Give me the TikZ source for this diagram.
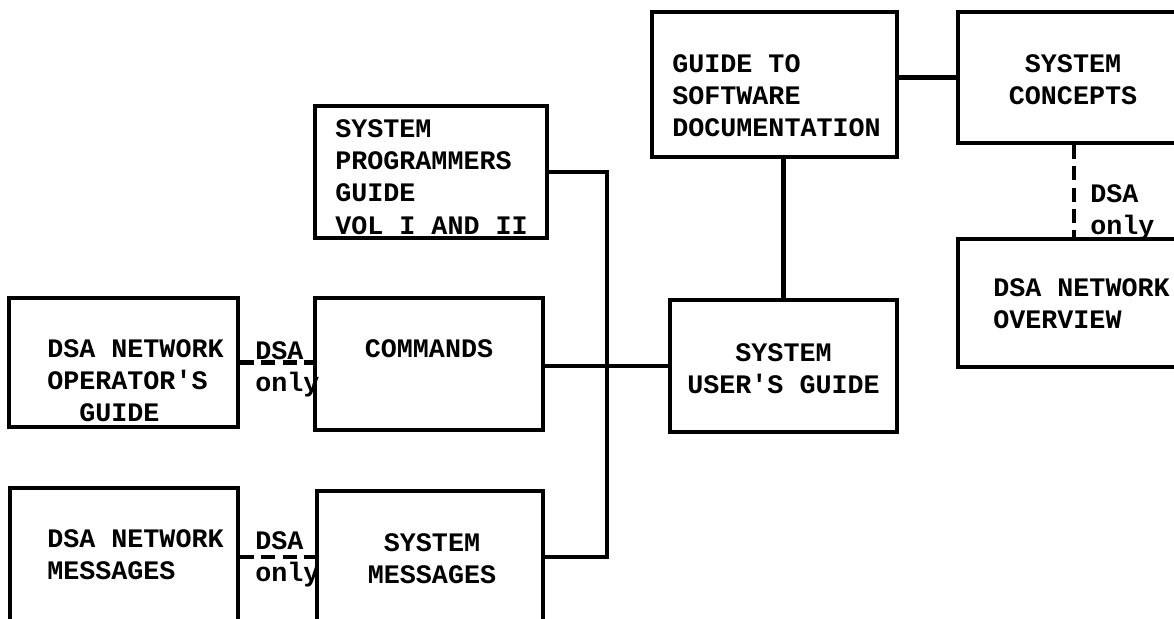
\documentclass[tikz,border=0pt]{standalone}
\usepackage{fontspec}
\setmonofont{Liberation Mono}
\usepackage{tikz}

\begin{document}
\begin{tikzpicture}[x=0.025cm,y=-0.025cm,
    docbox/.style={draw,line width=3pt,inner sep=0pt},
    doctext/.style={inner sep=0pt,align=left,font=\fontsize{19}{23}\selectfont\ttfamily\bfseries},
    link/.style={line width=3pt},
    dsaonly/.style={line width=3pt,dash pattern=on 0.35cm off 0.18cm}
]
    \useasboundingbox (0,0) rectangle (1174,618);
    \clip (0,0) rectangle (1174,618);
    % boxes
    \node[docbox,minimum width=232*0.025cm,minimum height=132*0.025cm] (sysprog) at (431,172) {};
    \node[docbox,minimum width=245*0.025cm,minimum height=145*0.025cm] (guidesw) at (774.5,84.5) {};
    \node[docbox,minimum width=232*0.025cm,minimum height=131*0.025cm] (concepts) at (1074,77.5) {};
    \node[docbox,minimum width=232*0.025cm,minimum height=128*0.025cm] (overview) at (1074,303) {};
    \node[docbox,minimum width=227*0.025cm,minimum height=132*0.025cm] (users) at (783.5,366) {};
    \node[docbox,minimum width=228*0.025cm,minimum height=132*0.025cm] (commands) at (429,364) {};
    \node[docbox,minimum width=229*0.025cm,minimum height=129*0.025cm] (opguide) at (123.5,362.5) {};
    \node[docbox,minimum width=228*0.025cm,minimum height=152*0.025cm] (netmsg) at (124,564) {};
    \node[docbox,minimum width=226*0.025cm,minimum height=149*0.025cm] (sysmsg) at (430,565.5) {};
    % texts
    \node[doctext,anchor=north west] (sysprog-t) at (335,119) {SYSTEM\\PROGRAMMERS\\GUIDE\\VOL I AND II};
    \node[doctext,anchor=north west] (guidesw-t) at (672,54) {GUIDE TO\\SOFTWARE\\DOCUMENTATION};
    \node[doctext,anchor=north,align=center] (concepts-t) at (1073,54) {SYSTEM\\CONCEPTS};
    \node[doctext,anchor=north west] (overview-t) at (993,278) {DSA NETWORK\\OVERVIEW};
    \node[doctext,anchor=north,align=center] (users-t) at (783.5,343) {SYSTEM\\USER'S GUIDE};
    \node[doctext,anchor=north,align=center] (commands-t) at (429,339) {COMMANDS};
    \node[doctext,anchor=north west] (opguide-t) at (47,339) {DSA NETWORK\\OPERATOR'S\\\phantom{OP}GUIDE};
    \node[doctext,anchor=north west] (netmsg-t) at (47,529) {DSA NETWORK\\MESSAGES};
    \node[doctext,anchor=north,align=center] (sysmsg-t) at (432,533) {SYSTEM\\MESSAGES};
    % links
    \coordinate (bus) at (607,557);
    \draw[link] (sysprog.east) -| (bus) -- (bus -| sysmsg.east);
    \draw[link] (users.west -| commands.east) -- (users.west);
    \draw[link] (users.north) -- (users.north |- guidesw.south);
    \draw[link] (concepts.west -| guidesw.east) -- (concepts.west);
    % DSA only links
    \draw[dsaonly] (opguide.east) -- (opguide.east -| commands.west);
    \draw[dsaonly] (netmsg.east |- bus) -- (sysmsg.west |- bus);
    \draw[dsaonly] (concepts.south) -- (overview.north);
    \node[doctext,anchor=north west] (dsa-op) at (255,341) {DSA\\only};
    \node[doctext,anchor=north west] (dsa-msg) at (255,531) {DSA\\only};
    \node[doctext,anchor=north west] (dsa-ov) at (1090,184) {DSA\\only};
\end{tikzpicture}
\end{document}
